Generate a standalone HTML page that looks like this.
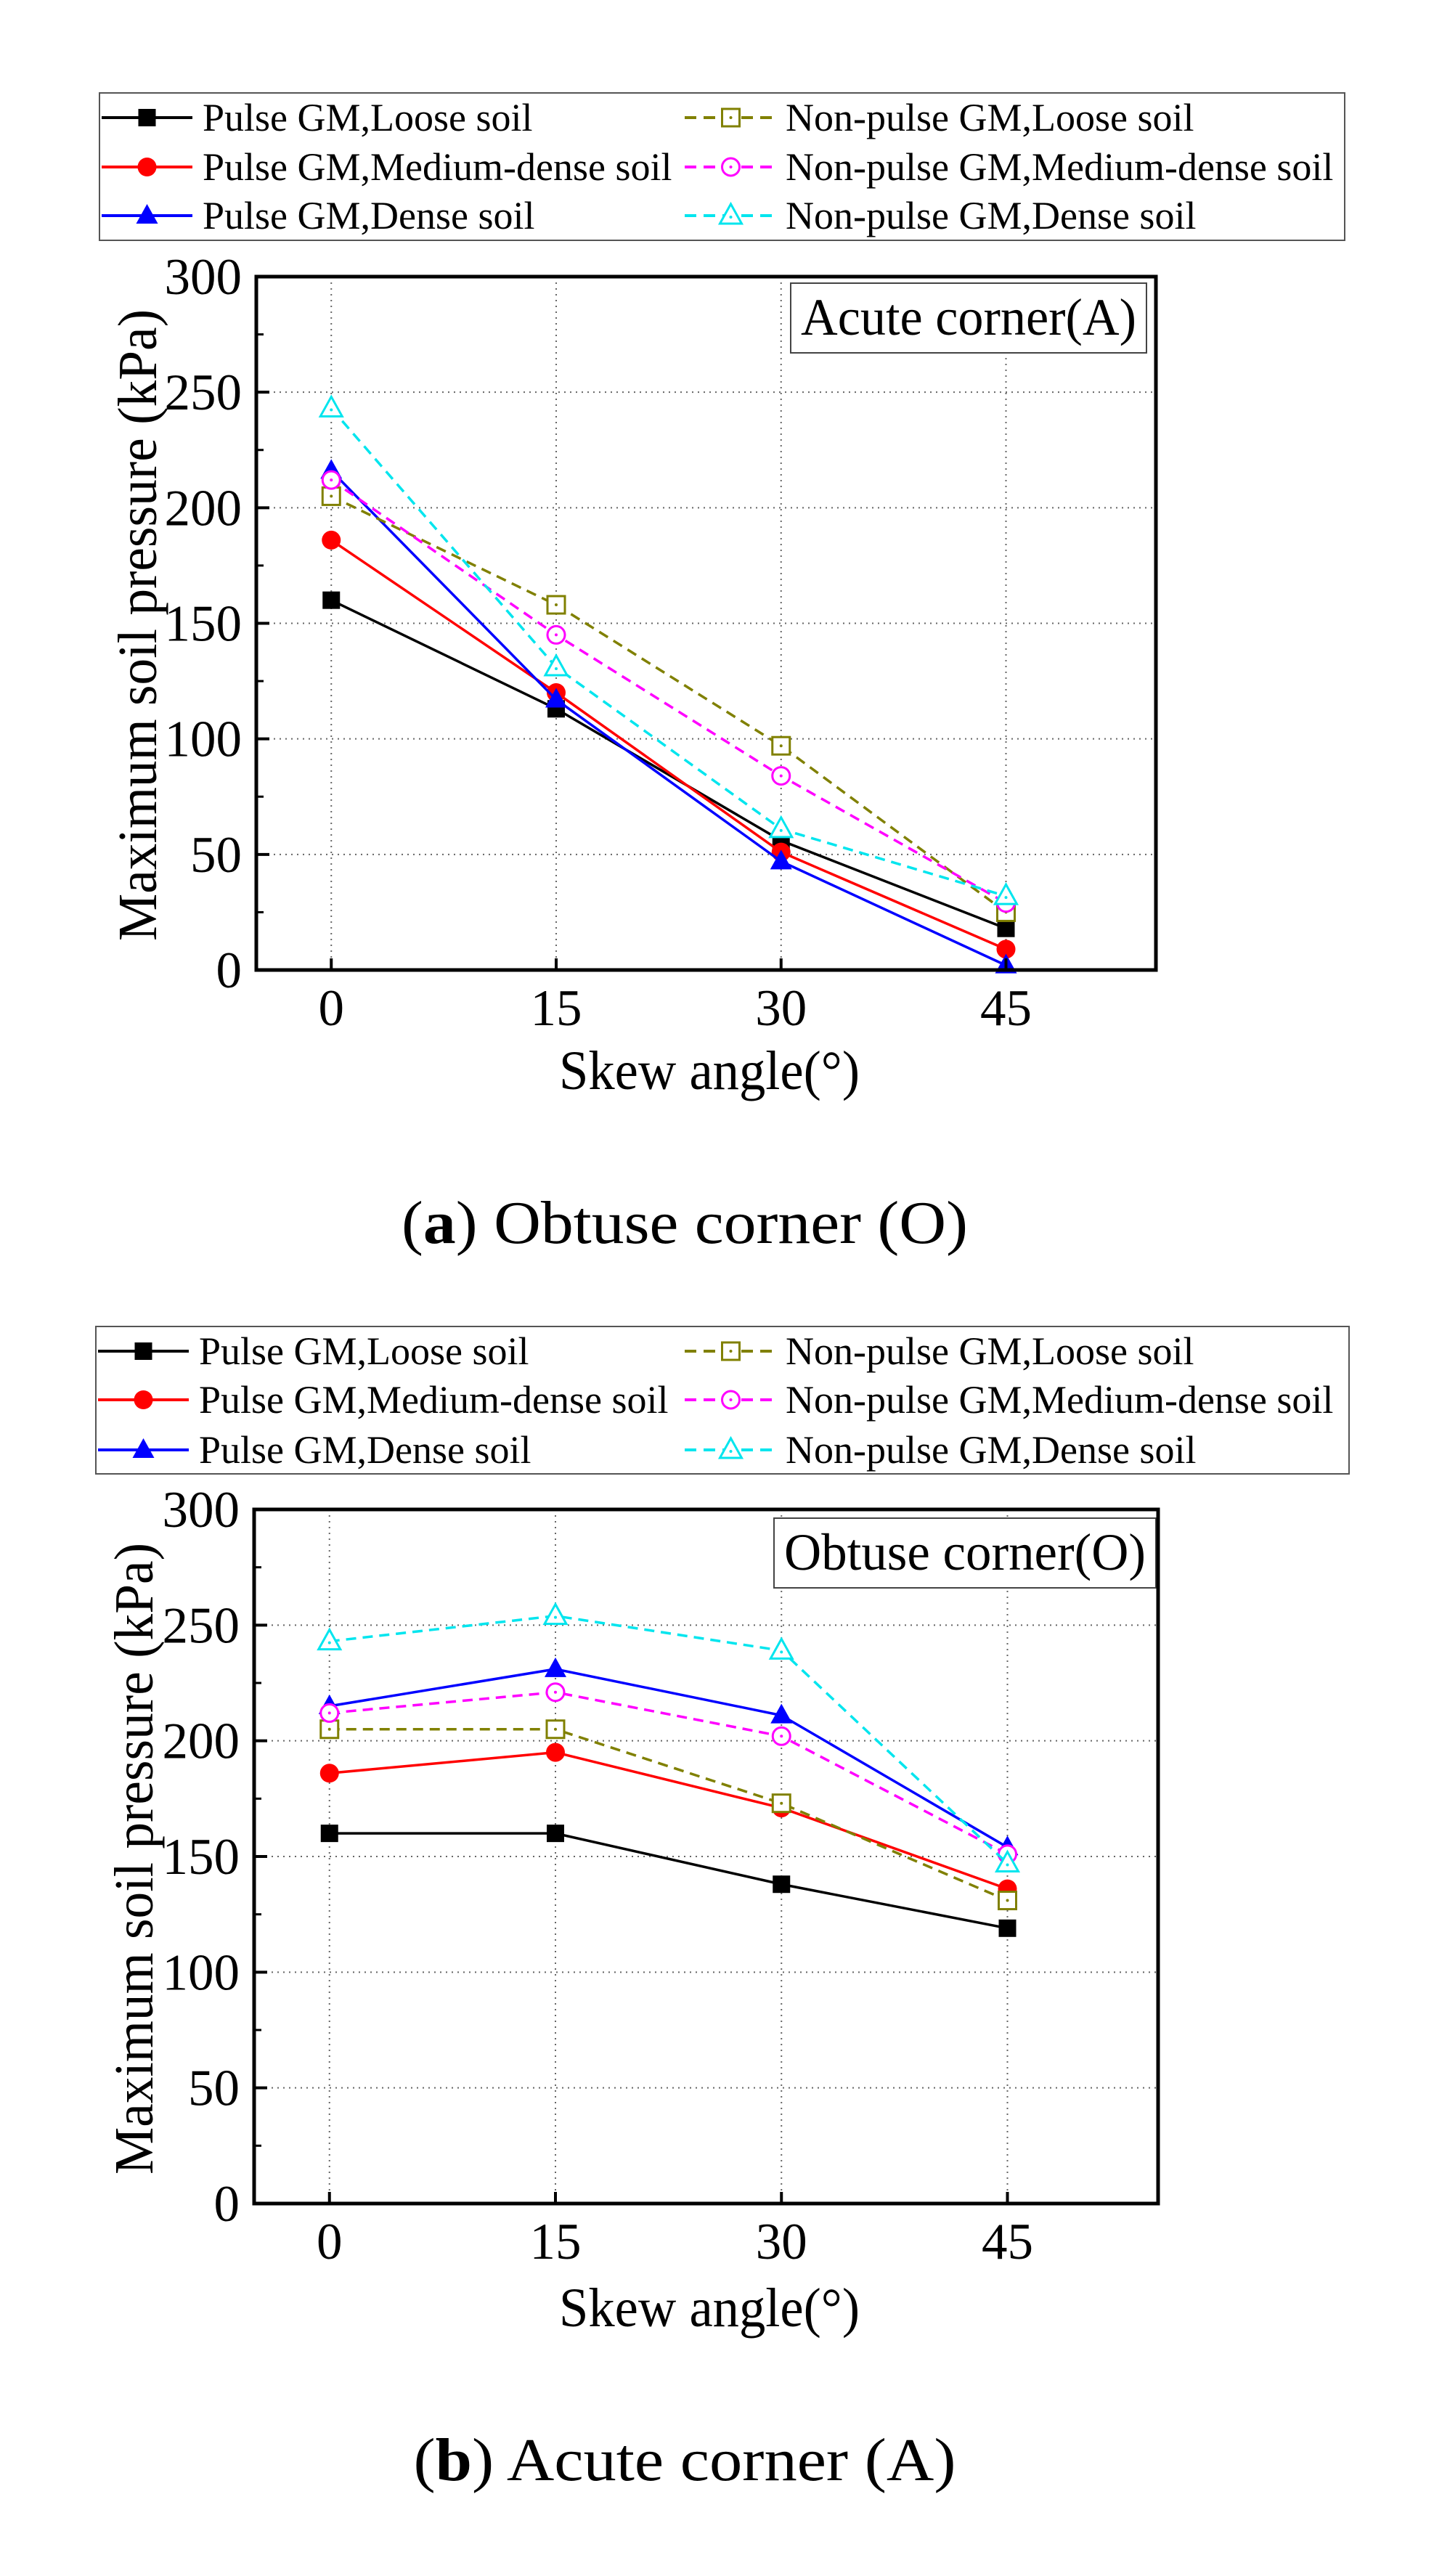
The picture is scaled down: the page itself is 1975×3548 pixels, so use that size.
<!DOCTYPE html>
<html><head><meta charset="utf-8"><style>
html,body{margin:0;padding:0;background:#fff;}
svg{display:block;font-family:"Liberation Serif",serif;}
</style></head><body>
<svg id="fig" width="1975" height="3548" viewBox="0 0 1975 3548" xmlns="http://www.w3.org/2000/svg"></svg>
<script>
const xCategories = [0, 15, 30, 45];
const xTickLabels = ["0", "15", "30", "45"];
const yTickLabels = ["0", "50", "100", "150", "200", "250", "300"];
const seriesNames = ["Pulse GM,Loose soil","Pulse GM,Medium-dense soil","Pulse GM,Dense soil","Non-pulse GM,Loose soil","Non-pulse GM,Medium-dense soil","Non-pulse GM,Dense soil"];
// Panel (a)
const a_pulseLoose = [160, 113, 56, 18];
const a_pulseMedium = [186, 120, 51, 9];
const a_pulseDense = [216, 117, 47, 2];
const a_nonpulseLoose = [205, 158, 97, 25];
const a_nonpulseMedium = [212, 145, 84, 29];
const a_nonpulseDense = [243, 131, 61, 32];
// Panel (b)
const b_pulseLoose = [160, 160, 138, 119];
const b_pulseMedium = [186, 195, 171, 136];
const b_pulseDense = [215, 231, 211, 154];
const b_nonpulseLoose = [205, 205, 173, 131];
const b_nonpulseMedium = [212, 221, 202, 151];
const b_nonpulseDense = [243, 254, 239, 147];

const NS = "http://www.w3.org/2000/svg";
const svg = document.getElementById('fig');
function mk(tag, attrs, parent, txt){
  const e = document.createElementNS(NS, tag);
  for (const k in attrs) e.setAttribute(k, attrs[k]);
  if (txt !== undefined) e.textContent = txt;
  (parent||svg).appendChild(e);
  return e;
}
const styles = [
  {c:"#000000", dash:null, m:"square", fill:true},
  {c:"#ff0000", dash:null, m:"circle", fill:true},
  {c:"#0000ff", dash:null, m:"triangle", fill:true},
  {c:"#808000", dash:"14,9", m:"square", fill:false},
  {c:"#ff00ff", dash:"14,9", m:"circle", fill:false},
  {c:"#00e5ee", dash:"14,9", m:"triangle", fill:false}
];
function marker(g, type, x, y, st){
  let e;
  const fill = st.fill ? st.c : "#fff";
  if (type === "square") {
    e = mk("rect", {x:x-12, y:y-12, width:24, height:24, fill:fill, stroke:st.c, "stroke-width":st.fill?0:3}, g);
    if (!st.fill) mk("circle",{cx:x,cy:y,r:2,fill:st.c},g);
  } else if (type === "circle") {
    e = mk("circle", {cx:x, cy:y, r:st.fill?13:12, fill:fill, stroke:st.c, "stroke-width":st.fill?0:3}, g);
    if (!st.fill) mk("circle",{cx:x,cy:y,r:2,fill:st.c},g);
  } else {
    e = mk("polygon", {points:`${x},${y-16} ${x-15},${y+11} ${x+15},${y+11}`, fill:fill, stroke:st.c, "stroke-width":st.fill?0:3}, g);
    if (!st.fill) mk("circle",{cx:x,cy:y+2,r:2,fill:st.c},g);
  }
  return e;
}
function panel(P){
  const g = mk("g", {});
  
  
  const X = v => P.x0 + (v - (-5)) / 60 * (P.x1 - P.x0);
  const Y = v => P.y1 - v / 300 * (P.y1 - P.y0);
  const lg = mk("g", {}, g);
  
  
  mk("rect", {x:P.lx0, y:P.ly0, width:P.lx1-P.lx0, height:P.ly1-P.ly0, fill:"#fff", stroke:"#555", "stroke-width":2}, lg);
  for (let i=0;i<6;i++){
    const st = styles[i];
    const col = i<3?0:1, row = i%3;
    const ly = P.rows[row];
    const lx0 = col===0 ? P.lx0+3 : 943, lx1 = col===0 ? P.lx0+128 : 1070;
    const mx = (lx0+lx1)/2;
    const eg = mk("g", {}, lg);
    
    
    mk("line", {x1:lx0, y1:ly, x2:lx1, y2:ly, stroke:st.c, "stroke-width":4, "stroke-dasharray":st.dash?"16,10":"none"}, eg);
    marker(eg, st.m, mx, ly, st);
    const tx = col===0 ? P.lx0+142 : 1082;
    mk("text", {x:tx, y:ly+18, "font-size":54}, eg, seriesNames[i]);
  }
  yTickLabels.forEach((t)=>{
    const v = +t;
    if (v>0 && v<300) {
      const gl = mk("line", {x1:P.x0, x2:P.x1, y1:Y(v), y2:Y(v), stroke:"#666", "stroke-width":2, "stroke-dasharray":"2,6"}, g);
      
      
    }
  });
  xCategories.forEach(v=>{
    const gl = mk("line", {x1:X(v), x2:X(v), y1:P.y0, y2:P.y1, stroke:"#666", "stroke-width":2, "stroke-dasharray":"2,6"}, g);
    
    
  });
  const ib = mk("g", {}, g);
  
  
  mk("rect", {x:P.ix0, y:P.iy0, width:P.ix1-P.ix0, height:P.iy1-P.iy0, fill:"#fff", stroke:"#444", "stroke-width":2}, ib);
  mk("text", {x:(P.ix0+P.ix1)/2, y:P.iy1-25, "font-size":72, "text-anchor":"middle", textLength:P.ix1-P.ix0-28, lengthAdjust:"spacingAndGlyphs"}, ib, P.inset);
  P.data.forEach((d,i)=>{
    const st = styles[i];
    const sg = mk("g", {}, g);
    
    
    const pts = d.map((v,j)=>X(xCategories[j])+","+Y(v)).join(" ");
    const pl = mk("polyline", {points:pts, fill:"none", stroke:st.c, "stroke-width":3.5, "stroke-dasharray":st.dash||"none"}, sg);
    
    
    d.forEach((v,j)=>{
      const m = marker(sg, st.m, X(xCategories[j]), Y(v), st);
      
      
    });
  });
  const fr = mk("rect", {x:P.x0, y:P.y0, width:P.x1-P.x0, height:P.y1-P.y0, fill:"none", stroke:"#000", "stroke-width":5}, g);
  
  
  const ya = mk("g", {}, g);
  
  
  yTickLabels.forEach(t=>{
    const v = +t;
    mk("line", {x1:P.x0, x2:P.x0+18, y1:Y(v), y2:Y(v), stroke:"#000", "stroke-width":4}, ya);
    if (v<300) mk("line", {x1:P.x0, x2:P.x0+10, y1:Y(v+25), y2:Y(v+25), stroke:"#000", "stroke-width":3}, ya);
    mk("text", {x:P.x0-20, y:Y(v)+24, "font-size":71, "text-anchor":"end"}, ya, t);
  });
  const yt = mk("text", {x:0, y:0, "font-size":76, "text-anchor":"middle", transform:`translate(${P.ytx},${P.ytc}) rotate(-90)`, textLength:870, lengthAdjust:"spacingAndGlyphs"}, g, "Maximum soil pressure (kPa)");
  
  
  const xa = mk("g", {}, g);
  
  
  xCategories.forEach((v,j)=>{
    mk("line", {x1:X(v), x2:X(v), y1:P.y1, y2:P.y1-16, stroke:"#000", "stroke-width":4}, xa);
    mk("text", {x:X(v), y:P.y1+76, "font-size":71, "text-anchor":"middle"}, xa, xTickLabels[j]);
  });
  const xt = mk("text", {x:977, y:P.xty, "font-size":76, "text-anchor":"middle", textLength:414, lengthAdjust:"spacingAndGlyphs"}, g, "Skew angle(°)");
  
  
  const cp = mk("text", {x:P.cx, y:P.cy, "font-size":84, "text-anchor":"middle", textLength:P.cw, lengthAdjust:"spacingAndGlyphs"}, g);
  
  
  mk("tspan", {}, cp, "(");
  mk("tspan", {"font-weight":"bold"}, cp, P.letter);
  mk("tspan", {}, cp, ") " + P.caption);
}
panel({name:"chart-a", x0:353, x1:1592, y0:381, y1:1336,
  lx0:137, lx1:1852, ly0:128, ly1:331, rows:[162,230,297],
  ix0:1089, ix1:1579, iy0:390, iy1:486, inset:"Acute corner(A)",
  ytx:215, ytc:861, xty:1500, cx:943, cy:1712, cw:780, letter:"a", caption:"Obtuse corner (O)",
  data:[a_pulseLoose,a_pulseMedium,a_pulseDense,a_nonpulseLoose,a_nonpulseMedium,a_nonpulseDense]});
panel({name:"chart-b", x0:350, x1:1595, y0:2079, y1:3035,
  lx0:132, lx1:1858, ly0:1827, ly1:2030, rows:[1861,1928,1997],
  ix0:1066, ix1:1592, iy0:2091, iy1:2187, inset:"Obtuse corner(O)",
  ytx:210, ytc:2560, xty:3204, cx:943, cy:3416, cw:747, letter:"b", caption:"Acute corner (A)",
  data:[b_pulseLoose,b_pulseMedium,b_pulseDense,b_nonpulseLoose,b_nonpulseMedium,b_nonpulseDense]});
</script>
</body></html>
